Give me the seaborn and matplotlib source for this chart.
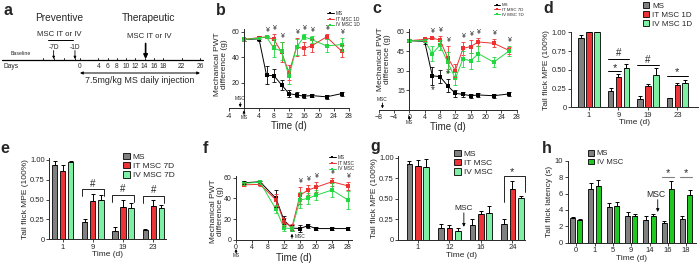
import numpy as np
import pandas as pd
import matplotlib
matplotlib.use("Agg")
import matplotlib.pyplot as plt
import matplotlib.transforms as mtransforms
import seaborn as sns
from matplotlib.lines import Line2D
from matplotlib.patches import Patch

sns.set_theme(style="ticks")
plt.rcParams['font.family'] = ['Liberation Sans', 'DejaVu Sans']
plt.rcParams['axes.linewidth'] = 0.7
plt.rcParams['xtick.major.width'] = 0.6
plt.rcParams['ytick.major.width'] = 0.6
plt.rcParams['xtick.major.size'] = 2
plt.rcParams['ytick.major.size'] = 2
plt.rcParams['xtick.major.pad'] = 1.2
plt.rcParams['ytick.major.pad'] = 1.2

# ---------------- data ----------------
# panel a (schematic)
a_days = [0, 4, 6, 8, 10, 12, 14, 16, 18, 22, 26]
a_pre_ticks = [-10, -7, -4, -1]
a_pre_days = [-7, -1]
a_msc_day = 14

# panel b (MSC 1 day before)
b_days = [0, 4, 6, 8, 10, 12, 14, 16, 18, 22, 26]
b_ms = [54, 54.5, 26, 25.5, 18.5, 11.5, 10.5, 9.5, 10, 9, 11.5]
b_ms_err = [1, 2, 7, 5, 4, 3, 2, 1.5, 1.5, 1.5, 1.5]
b_it = [54, 55.5, 56, 54, 44, 28, 48, 47, 49, 56, 45]
b_it_err = [1, 1, 1, 4, 8, 6, 7, 5, 5, 2, 5]
b_iv = [54, 55, 56, 47, 45, 25, 48, 56, 54, 49, 50]
b_iv_err = [1, 1, 1, 7, 7, 6, 6, 2, 3, 5, 5]
b_yen_days = [6, 8, 10, 14, 16, 18, 22, 26]
b_labels = ['MS', 'IT MSC 1D', 'IV MSC 1D']
b_msc_day = -1

# panel c (MSC 7 days before)
c_days = [0, 4, 6, 8, 10, 12, 14, 16, 18, 22, 26]
c_ms = [53, 52.5, 26, 25.3, 18.3, 12.4, 11.7, 10.6, 11.2, 10.6, 12]
c_ms_err = [1, 2, 7, 5, 5, 3, 2, 1.5, 1.5, 1.5, 1.5]
c_it = [53, 54, 55, 53.5, 40, 30, 47, 48.5, 52, 51, 45.5]
c_it_err = [1, 1, 1, 3, 9, 5, 5, 5, 3, 3, 3]
c_iv = [53, 53, 43, 49.5, 36.5, 24, 39, 37.5, 43, 36.5, 45]
c_iv_err = [1, 1, 6, 4, 8, 5, 6, 6, 6, 4, 4]
c_yen_days = [6, 8, 10, 14, 16, 18, 22, 26]
c_star_days = [6, 10]
c_star_side = [-1, 1]
c_labels = ['MS', 'IT MSC 7D', 'IV MSC 7D']
c_msc_day = -7

# panel d
d_times = ['1', '9', '19', '23']
d_ms = [0.93, 0.22, 0.11, 0.12]
d_ms_err = [0.04, 0.04, 0.04, 0.01]
d_it = [1.0, 0.41, 0.28, 0.30]
d_it_err = [0.0, 0.03, 0.03, 0.03]
d_iv = [1.0, 0.52, 0.43, 0.33]
d_iv_err = [0.0, 0.06, 0.09, 0.03]
d_labels = ['MS', 'IT MSC 1D', 'IV MSC 1D']

# panel e
e_times = ['1', '9', '19', '23']
e_ms = [0.94, 0.22, 0.11, 0.12]
e_ms_err = [0.05, 0.04, 0.04, 0.01]
e_it = [0.86, 0.48, 0.41, 0.42]
e_it_err = [0.08, 0.09, 0.09, 0.07]
e_iv = [0.97, 0.49, 0.40, 0.40]
e_iv_err = [0.02, 0.07, 0.06, 0.03]
e_labels = ['MS', 'IT MSC 7D', 'IV MSC 7D']

# panel f (therapeutic)
f_days = [2, 6, 10, 12, 14, 16, 18, 20, 24, 28]
f_ms = [55, 56, 40, 19, 11.5, 11, 13.8, 11, 11, 11]
f_ms_err = [1.5, 1, 8, 4, 3, 3, 2, 1.5, 1.5, 1.5]
f_it = [53, 53.5, 38.5, 17.5, 12.5, 43, 48, 50.7, 56, 52]
f_it_err = [1.5, 1.5, 6, 4, 3, 8, 5, 5, 4, 4]
f_iv = [54.5, 55.5, 29.5, 11.5, 11, 38.5, 40, 43, 48, 38.5]
f_iv_err = [1.5, 1.5, 4, 3, 2, 8, 5, 5, 7, 9]
f_yen_days = [16, 18, 20, 24, 28]
f_labels = ['MS', 'IT MSC', 'IV MSC']
f_msc_day = 14

# panel g
g_times = ['1', '12', '16', '24']
g_ms = [0.92, 0.15, 0.18, 0.20]
g_ms_err = [0.04, 0.04, 0.07, 0.05]
g_it = [0.90, 0.14, 0.32, 0.62]
g_it_err = [0.07, 0.04, 0.03, 0.10]
g_iv = [0.89, 0.11, 0.33, 0.51]
g_iv_err = [0.09, 0.03, 0.08, 0.02]
g_labels = ['MS', 'IT MSC', 'IV MSC']

# panel h
h_times = ['0', '1', '5', '9', '14', '16', '18']
h_ms = [3.0, 6.6, 4.3, 3.2, 2.8, 2.4, 2.9]
h_ms_err = [0.15, 0.7, 0.6, 0.5, 0.5, 0.25, 0.4]
h_iv = [2.8, 6.9, 4.5, 3.2, 3.2, 6.6, 5.8]
h_iv_err = [0.15, 0.8, 0.5, 0.3, 0.3, 0.9, 0.6]
h_labels = ['MS', 'IV MSC']

LINE_COLORS = ['#000000', '#ee3030', '#22d840']
BAR3 = ['#808080', '#ec3438', '#7ef0a4']
BAR2 = ['#808080', '#22c822']

# ---------------- figure ----------------
W, H = 700, 264
fig = plt.figure(figsize=(7.0, 2.64), dpi=100)


def add_ax(l, t, r, b):
    return fig.add_axes([l / W, 1 - b / H, (r - l) / W, (b - t) / H])


def ftext(x, y, s, **kw):
    fig.text(x / W, 1 - y / H, s, **kw)


ARW = dict(arrowstyle='-|>', lw=0.6, color='black', mutation_scale=3.5,
           shrinkA=0, shrinkB=0)


def line_panel(ax, days, series, errs, labels):
    rows = []
    for lab, vals in zip(labels, series):
        for d, v in zip(days, vals):
            rows.append((d, v, lab))
    df = pd.DataFrame(rows, columns=['day', 'value', 'group'])
    sns.lineplot(data=df, x='day', y='value', hue='group', hue_order=labels,
                 palette=LINE_COLORS, marker='s', markersize=2.2,
                 markeredgewidth=0, linewidth=0.7, legend=False, ax=ax,
                 errorbar=None)
    for col, vals, e in zip(LINE_COLORS, series, errs):
        ax.errorbar(days, vals, yerr=e, fmt='none', ecolor=col,
                    elinewidth=0.6, capsize=1.1, capthick=0.6)
    ax.set_xlabel('Time (d)', fontsize=7, labelpad=1)
    ax.set_ylabel('Mechanical PWT\ndifference (g)', fontsize=6,
                  linespacing=1.0)
    ax.tick_params(labelsize=5)
    sns.despine(ax=ax)


def yen(ax, days, yen_days, series, errs, off):
    for d in yen_days:
        i = days.index(d)
        top = max(s[i] + e[i] for s, e in zip(series[1:], errs[1:]))
        ax.text(d, top + off, '¥', ha='center', va='bottom', fontsize=5)


def line_legend(labels, x, y, fs):
    handles = [Line2D([0], [0], color=c, lw=0.7, marker='s', markersize=2,
                      markeredgewidth=0) for c in LINE_COLORS]
    fig.legend(handles, labels, loc='upper left',
               bbox_to_anchor=(x / W, 1 - y / H), frameon=False,
               fontsize=fs, handlelength=1.4, handletextpad=0.4,
               labelspacing=0.15, borderpad=0, borderaxespad=0)


def bar_panel(ax, cats, series, errs, labels, colors, gap):
    rows = []
    for lab, vals in zip(labels, series):
        for c, v in zip(cats, vals):
            rows.append((c, v, lab))
    df = pd.DataFrame(rows, columns=['time', 'value', 'group'])
    sns.barplot(data=df, x='time', y='value', hue='group', order=cats,
                hue_order=labels, palette=colors, errorbar=None, width=0.8,
                gap=gap, edgecolor='black', linewidth=0.6, legend=False,
                ax=ax, saturation=1)
    centers, halfw = [], 0
    for cont, vals, e in zip(ax.containers, series, errs):
        xs = [b.get_x() + b.get_width() / 2 for b in cont]
        halfw = cont[0].get_width() / 2
        ax.errorbar(xs, vals, yerr=[np.zeros(len(e)), e], fmt='none',
                    ecolor='black', elinewidth=0.7, capsize=1.4,
                    capthick=0.7, zorder=1)
        centers.append(xs)
    ax.set_xlabel('Time (d)', fontsize=6, labelpad=0.5)
    ax.tick_params(labelsize=5.5)
    sns.despine(ax=ax)
    return np.array(centers), halfw


def bar_legend(labels, colors, x, y, fs):
    handles = [Patch(facecolor=c, edgecolor='black', linewidth=0.6)
               for c in colors]
    fig.legend(handles, labels, loc='upper left',
               bbox_to_anchor=(x / W, 1 - y / H), frameon=False,
               fontsize=fs, handlelength=0.8, handleheight=0.75,
               handletextpad=0.35, labelspacing=0.15, borderpad=0,
               borderaxespad=0)


MPE_TICKS = [0, 0.25, 0.5, 0.75, 1.0]
MPE_LABELS = ['0', '0.25', '0.50', '0.75', '1.00']

# ---------------- panel a ----------------
ax_a = add_ax(0, 0, 212, 95)
ax_a.set_xlim(0, 212)
ax_a.set_ylim(95, 0)
ax_a.axis('off')


def day_px(d):
    return 80 + 4.615 * d if d >= 0 else 78.5 + 3.55 * d


ax_a.plot([2, 203], [60, 60], color='black', lw=0.9)
for d in a_pre_ticks + a_days:
    ax_a.plot([day_px(d)] * 2, [57.6, 60], color='black', lw=0.6)
for d in a_days:
    ax_a.text(day_px(d), 66, str(d), ha='center', va='center', fontsize=4.8)
ax_a.text(4, 66, 'Days', ha='left', va='center', fontsize=4.8)
ax_a.text(11, 53.5, 'Baseline', ha='left', va='center', fontsize=3.8)
for d in a_pre_days:
    ax_a.annotate('', xy=(day_px(d), 59), xytext=(day_px(d), 50.5),
                  arrowprops=ARW)
    ax_a.text(day_px(d), 47.5, '%dD' % d, ha='center', va='center',
              fontsize=4.8)
ax_a.plot([day_px(a_pre_days[0]) - 6, day_px(a_pre_days[1]) - 2], [40, 40],
          color='black', lw=0.7)
ax_a.text(59, 34, 'MSC IT or IV', ha='center', va='center', fontsize=5.6)
ax_a.text(59, 18, 'Preventive', ha='center', va='center', fontsize=7.3)
ax_a.text(148, 18, 'Therapeutic', ha='center', va='center', fontsize=7.3)
ax_a.text(149, 37, 'MSC IT or IV', ha='center', va='center', fontsize=5.6)
ax_a.annotate('', xy=(day_px(a_msc_day) + 1, 59),
              xytext=(day_px(a_msc_day) + 1, 43.5),
              arrowprops=dict(arrowstyle='-|>', lw=1.2, color='black',
                              mutation_scale=6, shrinkA=0, shrinkB=0))
ax_a.annotate('', xy=(day_px(a_days[0]), 73), xytext=(day_px(a_days[-1]), 73),
              arrowprops=dict(arrowstyle='<|-|>', lw=0.7, color='black',
                              mutation_scale=4, shrinkA=0, shrinkB=0))
ax_a.text(140, 80.5, '7.5mg/kg MS daily injection', ha='center',
          va='center', fontsize=6.4)

# ---------------- panel b ----------------
ax_b = add_ax(229, 29.3, 349, 108.3)
line_panel(ax_b, b_days, [b_ms, b_it, b_iv], [b_ms_err, b_it_err, b_iv_err],
           b_labels)
ax_b.set_xlim(-4, 28)
ax_b.set_ylim(0, 62)
ax_b.spines['left'].set_position(('data', 0))
ax_b.set_yticks([20, 40, 60])
ax_b.set_xticks(list(range(-4, 29, 4)))
ax_b.set_xticklabels([str(t) if t != 0 else '' for t in range(-4, 29, 4)])
ax_b.yaxis.set_label_coords(-0.01, 0.56)
yen(ax_b, b_days, b_yen_days, [b_ms, b_it, b_iv],
    [b_ms_err, b_it_err, b_iv_err], 1.5)
ax_b.text(b_msc_day, 7.5, 'MSC', ha='center', va='center', fontsize=3.5)
ax_b.annotate('', xy=(b_msc_day, 0.8), xytext=(b_msc_day, 4.5),
              arrowprops=ARW)
tb = mtransforms.blended_transform_factory(ax_b.transData, ax_b.transAxes)
ax_b.annotate('', xy=(0, -0.025), xytext=(0, -0.09), xycoords=tb,
              textcoords=tb, arrowprops=ARW, annotation_clip=False)
ax_b.text(0, -0.09, 'MS', transform=tb, ha='center', va='top', fontsize=3.5)
line_legend(b_labels, 327, 11, 3.4)

# ---------------- panel c ----------------
ax_c = add_ax(378.6, 29, 516.7, 109.5)
line_panel(ax_c, c_days, [c_ms, c_it, c_iv], [c_ms_err, c_it_err, c_iv_err],
           c_labels)
ax_c.set_xlim(-8, 28)
ax_c.set_ylim(0, 62)
ax_c.spines['left'].set_position(('data', 0))
ax_c.set_yticks([15, 30, 45, 60])
ax_c.set_xticks(list(range(-8, 29, 4)))
ax_c.yaxis.set_label_coords(0.09, 0.63)
yen(ax_c, c_days, c_yen_days, [c_ms, c_it, c_iv],
    [c_ms_err, c_it_err, c_iv_err], 1.5)
for d, side in zip(c_star_days, c_star_side):
    i = c_days.index(d)
    yy = c_ms[i] + side * (c_ms_err[i] + 4)
    ax_c.text(d, yy, '*', ha='center', va='center', fontsize=7)
ax_c.text(c_msc_day, 8, 'MSC', ha='center', va='center', fontsize=3.5)
ax_c.annotate('', xy=(c_msc_day, 0.8), xytext=(c_msc_day, 5),
              arrowprops=ARW)
tc = mtransforms.blended_transform_factory(ax_c.transData, ax_c.transAxes)
ax_c.annotate('', xy=(0, -0.075), xytext=(0, -0.13), xycoords=tc,
              textcoords=tc, arrowprops=ARW, annotation_clip=False)
ax_c.text(0, -0.13, 'MS', transform=tc, ha='center', va='top', fontsize=3.5)
line_legend(c_labels, 494, 3, 3.2)

# ---------------- panel d ----------------
ax_d = add_ax(571, 32.3, 698, 107.3)
cd, hw = bar_panel(ax_d, d_times, [d_ms, d_it, d_iv],
                   [d_ms_err, d_it_err, d_iv_err], d_labels, BAR3, 0.3)
ax_d.set_xlim(-0.61, 3.7)
ax_d.set_ylim(0, 1.0)
ax_d.set_yticks(MPE_TICKS)
ax_d.set_yticklabels(MPE_LABELS)
ax_d.set_ylabel('Tail flick MPE (100%)', fontsize=6, labelpad=1)
d_tops = [np.array(v) + np.array(e) for v, e in
          zip([d_ms, d_it, d_iv], [d_ms_err, d_it_err, d_iv_err])]


def hline_mark(ax, x0, x1, y, sym, fs=7, dy=0.0):
    ax.plot([x0, x1], [y, y], color='black', lw=0.7, clip_on=False)
    ax.text((x0 + x1) / 2, y + dy, sym, ha='center', va='bottom',
            fontsize=fs)


# 9: '#' MS vs IV, '*' MS vs IT
y1 = d_tops[2][1] + 0.07
hline_mark(ax_d, cd[0][1] - hw, cd[2][1] + hw, y1, '#', dy=0.01)
y2 = d_tops[1][1] + 0.04
hline_mark(ax_d, cd[0][1] - hw, cd[1][1] + hw, y2, '*', fs=8, dy=-0.02)
y3 = d_tops[2][2] + 0.04
hline_mark(ax_d, cd[0][2] - hw, cd[2][2] + hw, y3, '#', dy=0.01)
y4 = d_tops[2][3] + 0.06
hline_mark(ax_d, cd[0][3] - hw, cd[2][3] + hw, y4, '*', fs=8, dy=-0.02)
bar_legend(d_labels, BAR3, 643, 2, 5.8)

# ---------------- panel e ----------------
ax_e = add_ax(49.3, 158.4, 166, 239.3)
ce, hw = bar_panel(ax_e, e_times, [e_ms, e_it, e_iv],
                   [e_ms_err, e_it_err, e_iv_err], e_labels, BAR3, 0.34)
ax_e.set_xlim(-0.44, 3.42)
ax_e.set_ylim(0, 1.02)
ax_e.set_yticks(MPE_TICKS)
ax_e.set_yticklabels(MPE_LABELS)
ax_e.set_ylabel('Tail flick MPE (100%)', fontsize=6, labelpad=1)
e_tops = [np.array(v) + np.array(e) for v, e in
          zip([e_ms, e_it, e_iv], [e_ms_err, e_it_err, e_iv_err])]
for k in [1, 2, 3]:
    top = max(e_tops[1][k], e_tops[2][k]) + 0.06
    x0, x1 = ce[0][k] - hw, ce[2][k] + hw
    ax_e.plot([x0, x0, x1, x1], [top - 0.09, top, top, top - 0.09],
              color='black', lw=0.6)
    ax_e.text((x0 + x1) / 2, top + 0.01, '#', ha='center', va='bottom',
              fontsize=7)
bar_legend(e_labels, BAR3, 123, 153, 6)

# ---------------- panel f ----------------
ax_f = add_ax(236, 175.5, 351.6, 240)
line_panel(ax_f, f_days, [f_ms, f_it, f_iv], [f_ms_err, f_it_err, f_iv_err],
           f_labels)
ax_f.set_xlim(0, 28.9)
ax_f.set_ylim(0, 62)
ax_f.set_yticks([0, 20, 40, 60])
ax_f.set_xticks(list(range(0, 29, 4)))
ax_f.yaxis.set_label_coords(-0.1, 0.45)
yen(ax_f, f_days, f_yen_days, [f_ms, f_it, f_iv],
    [f_ms_err, f_it_err, f_iv_err], 1.5)
ax_f.annotate('', xy=(f_msc_day, 6), xytext=(f_msc_day, 1.5),
              arrowprops=ARW)
ax_f.text(f_msc_day + 0.6, 3, 'MSC', ha='left', va='center', fontsize=3.5)
tf = mtransforms.blended_transform_factory(ax_f.transData, ax_f.transAxes)
ax_f.annotate('', xy=(0, -0.14), xytext=(0, -0.2), xycoords=tf,
              textcoords=tf, arrowprops=ARW, annotation_clip=False)
ax_f.text(0, -0.2, 'MS', transform=tf, ha='center', va='top', fontsize=3.5)
line_legend(f_labels, 329, 155, 3.4)

# ---------------- panel g ----------------
ax_g = add_ax(398.3, 156, 525, 240)
cg, hw = bar_panel(ax_g, g_times, [g_ms, g_it, g_iv],
                   [g_ms_err, g_it_err, g_iv_err], g_labels, BAR3, 0.33)
ax_g.set_xlim(-0.62, 3.4)
ax_g.set_ylim(0, 1.02)
ax_g.set_yticks(MPE_TICKS)
ax_g.set_yticklabels(MPE_LABELS)
ax_g.set_ylabel('Tail flick MPE (100%)', fontsize=6, labelpad=1)
g_tops = [np.array(v) + np.array(e) for v, e in
          zip([g_ms, g_it, g_iv], [g_ms_err, g_it_err, g_iv_err])]
top = g_tops[1][3] + 0.06
ax_g.plot([cg[0][3], cg[0][3], cg[2][3] + hw + 0.05, cg[2][3] + hw + 0.05],
          [g_tops[0][3] + 0.21, top, top, g_tops[2][3] + 0.05],
          color='black', lw=0.6, clip_on=False)
ax_g.text((cg[0][3] + cg[2][3]) / 2, top - 0.02, '*', ha='center',
          va='bottom', fontsize=8)
ax_g.text(1.46, 0.34, 'MSC', ha='center', va='bottom', fontsize=6)
ax_g.annotate('', xy=(1.46, 0.16), xytext=(1.46, 0.33),
              arrowprops=dict(ARW, mutation_scale=4.5))
bar_legend(g_labels, BAR3, 454, 150, 6)

# ---------------- panel h ----------------
ax_h = add_ax(567.7, 160.7, 696, 242.7)
chh, hw = bar_panel(ax_h, h_times, [h_ms, h_iv], [h_ms_err, h_iv_err],
                    h_labels, BAR2, 0.32)
ax_h.set_xlim(-0.47, 6.54)
ax_h.set_ylim(0, 10)
ax_h.set_yticks([0, 2, 4, 6, 8, 10])
ax_h.set_ylabel('Tail flick latency (s)', fontsize=6, labelpad=1)
h_top = max(np.array(h_iv[5:]) + np.array(h_iv_err[5:])) + 0.55
for k in [5, 6]:
    x0, x1 = chh[0][k] - hw, chh[1][k] + hw
    ax_h.plot([x0, x1], [h_top, h_top], color='#808080', lw=0.8)
    ax_h.text((x0 + x1) / 2, h_top - 0.2, '*', ha='center', va='bottom',
              fontsize=8)
ax_h.text(4.35, 5.3, 'MSC', ha='center', va='bottom', fontsize=6.2)
ax_h.annotate('', xy=(4.45, 3.75), xytext=(4.45, 5.25),
              arrowprops=dict(ARW, mutation_scale=4.5))
bar_legend(h_labels, BAR2, 588, 150, 5.5)

# ---------------- panel letters ----------------
for lab, x, y in [('a', 3, 15), ('b', 216, 15), ('c', 372, 13.3),
                  ('d', 543, 13.3), ('e', 0, 152.7), ('f', 203, 153),
                  ('g', 370, 150.7), ('h', 541.7, 152.7)]:
    ftext(x, y, lab, fontsize=11.5, fontweight='bold', ha='left',
          va='baseline')

fig.savefig('out.png', dpi=100)
